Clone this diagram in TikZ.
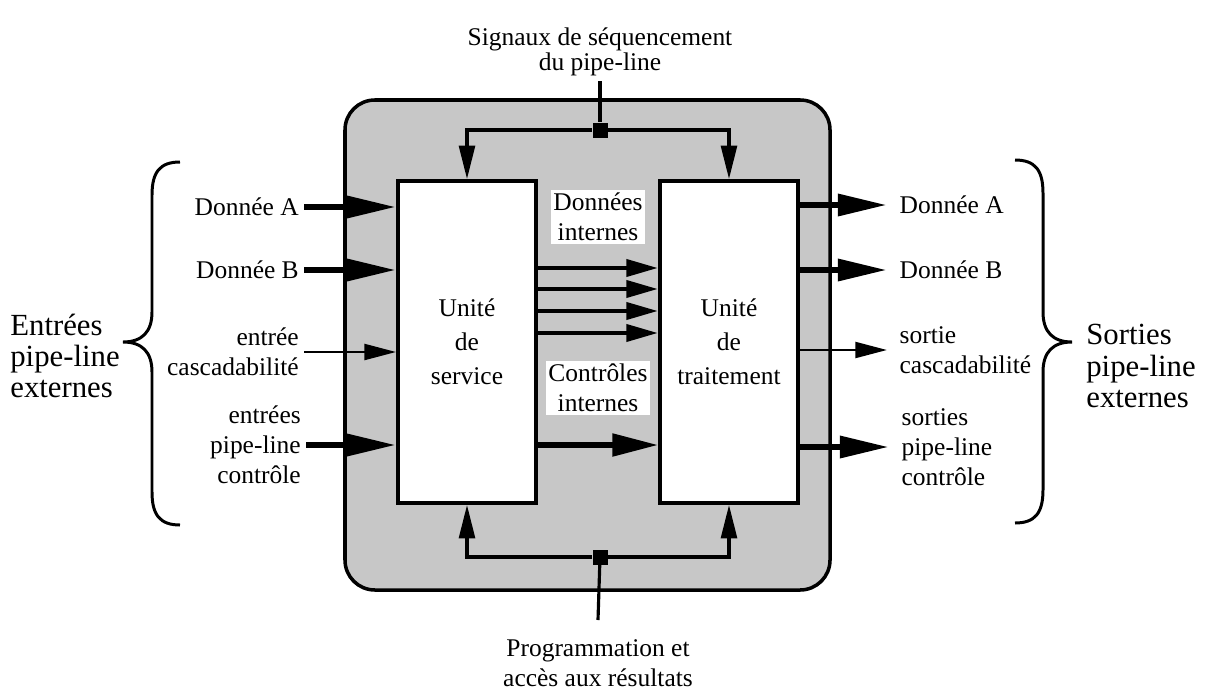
\documentclass[tikz,border=0pt]{standalone}
\usepackage{fontspec}
\setmainfont{Liberation Serif}
\usepackage{tikz}
\usetikzlibrary{arrows.meta}

\begin{document}
\begin{tikzpicture}[x=0.02cm,y=-0.02cm,
  lbl/.style={font=\fontsize{14.5}{17}\selectfont,inner sep=2.8pt},
  lblr/.style={font=\fontsize{14.5}{17}\selectfont,inner ysep=2.8pt,inner xsep=7pt},
  biglbl/.style={font=\fontsize{17.5}{17.8}\selectfont,align=left,inner sep=0pt},
  unit/.style={draw,line width=2.2pt,fill=white,minimum width=2.76cm,minimum height=6.44cm,
    align=center,font=\fontsize{14.5}{19.5}\selectfont},
  jct/.style={fill=black,minimum size=0.3cm,inner sep=0pt},
  bigarr/.style={line width=3.6pt,-{Triangle[length=28pt,width=12pt]}},
  thinarr/.style={line width=1.5pt,-{Triangle[length=18pt,width=9pt]}},
  datarr/.style={line width=2.6pt,-{Triangle[length=18pt,width=9.5pt]}},
  ctlarr/.style={line width=3pt,-{Triangle[length=26pt,width=12.5pt]}},
  bus/.style={line width=1.8pt},
  busarr/.style={line width=1.8pt,-{Triangle[length=19pt,width=9pt]}},
  brace/.style={line width=1.7pt}]

  \useasboundingbox (0,0) rectangle (1214,690);

  %% Frame
  \draw[line width=2pt,fill=black!22,rounded corners=17pt] (345,100) rectangle (830,590);

  %% Units
  \node[unit] (serv)  at (467,342) {Unité\\de\\service};
  \node[unit] (trait) at (729,342) {Unité\\de\\traitement};

  %% Sequencing bus (top)
  \node[lbl,align=center,font=\fontsize{14.5}{14}\selectfont,anchor=south] (seq) at (600,81)
    {Signaux de séquencement\\du pipe-line};
  \node[jct] (jt) at (600,130) {};
  \draw[bus] (seq.south) -- (jt);
  \draw[busarr] (jt) -| (serv.north);
  \draw[busarr] (jt) -| (trait.north);

  %% Programming bus (bottom)
  \node[lbl,align=center,anchor=north,inner ysep=11pt] (prog) at (598,620)
    {Programmation et\\accès aux résultats};
  \node[jct] (jb) at (600,557) {};
  \draw[bus] (prog.north) -- (jb);
  \draw[busarr] (jb) -| (serv.south);
  \draw[busarr] (jb) -| (trait.south);

  %% Internal links
  \node[lbl,align=center,fill=white,inner sep=1.5pt] (dint) at (598,217) {Données\\internes};
  \foreach \y in {268,289,311,333}
    \draw[datarr] (serv.east |- 0,\y) -- (trait.west |- 0,\y);
  \node[lbl,align=center,fill=white,inner sep=1.5pt] (cint) at (598,388) {Contrôles\\internes};
  \draw[ctlarr] (serv.east |- 0,445) -- (trait.west |- 0,445);

  %% Inputs
  \node[lbl,anchor=east] (inA) at (304,207) {Donnée A};
  \node[lbl,anchor=east] (inB) at (304,270) {Donnée B};
  \node[lbl,anchor=east,align=right] (inC) at (304,352) {entrée\\cascadabilité};
  \node[lbl,anchor=east,align=right] (inD) at (306,445) {entrées\\pipe-line\\contrôle};
  \draw[bigarr]  (inA.east) -- (inA.east -| serv.west);
  \draw[bigarr]  (inB.east) -- (inB.east -| serv.west);
  \draw[thinarr] (inC.east) -- (inC.east -| serv.west);
  \draw[bigarr]  (inD.east) -- (inD.east -| serv.west);

  %% Outputs
  \node[lblr,anchor=west] (outA) at (887,205) {Donnée A};
  \node[lblr,anchor=west] (outB) at (887,270) {Donnée B};
  \node[lblr,anchor=west,align=left] (outC) at (887,350) {sortie\\cascadabilité};
  \node[lblr,anchor=west,align=left] (outD) at (889,447) {sorties\\pipe-line\\contrôle};
  \draw[bigarr]  (trait.east |- outA.west) -- (outA.west);
  \draw[bigarr]  (trait.east |- outB.west) -- (outB.west);
  \draw[thinarr] (trait.east |- outC.west) -- (outC.west);
  \draw[bigarr]  (trait.east |- outD.west) -- (outD.west);

  %% Braces
  \draw[brace] (180,162) .. controls (160,162) and (152,172) .. (152,195) -- (152,312)
    .. controls (152,332) and (142,342) .. (123,342)
    .. controls (142,342) and (152,352) .. (152,372) -- (152,492)
    .. controls (152,515) and (160,525) .. (180,525);
  \draw[brace] (1015,160) .. controls (1035,160) and (1043,170) .. (1043,193) -- (1043,312)
    .. controls (1043,332) and (1053,342) .. (1072,342)
    .. controls (1053,342) and (1043,352) .. (1043,372) -- (1043,490)
    .. controls (1043,513) and (1035,523) .. (1015,523);
  % labels
  \node[biglbl,anchor=west] (entx)  at (10,356)   {Entrées\\pipe-line\\externes};
  \node[biglbl,anchor=west] (sortx) at (1086,366) {Sorties\\pipe-line\\externes};

\end{tikzpicture}
\end{document}
